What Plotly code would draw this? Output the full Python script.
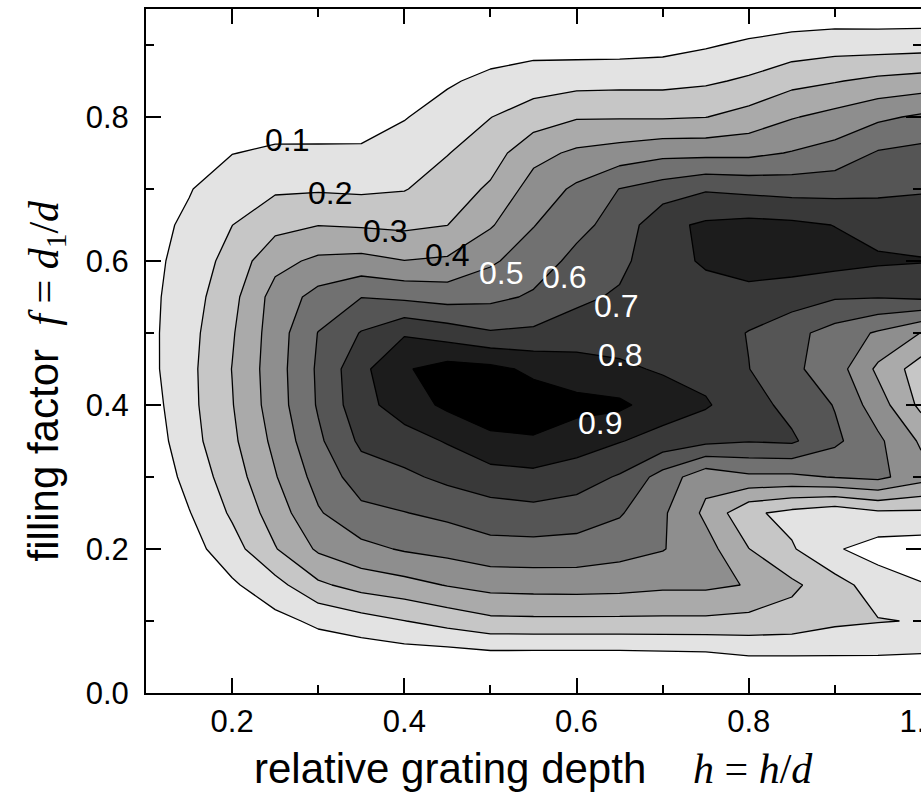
import plotly.graph_objects as go

# grid coordinates
x_vals = [0.10, 0.15, 0.20, 0.25, 0.30, 0.35, 0.40, 0.45, 0.50, 0.55,
          0.60, 0.65, 0.70, 0.75, 0.80, 0.85, 0.90, 0.95, 1.00]
y_vals = [0.00, 0.05, 0.10, 0.15, 0.20, 0.25, 0.30, 0.35, 0.40, 0.45,
          0.50, 0.55, 0.60, 0.65, 0.70, 0.75, 0.80, 0.85, 0.90, 0.95]

# efficiency values, one list per grating depth (column), listed from f=0.00 to f=0.95
c010 = [0, 0, 0, 0, 0, 0, 0.005, 0.032, 0.05, 0.066, 0.069, 0.07, 0.07, 0.07, 0.05, 0.01, 0, 0, 0, 0]
c015 = [0, 0, 0.01, 0.03, 0.06, 0.095, 0.135, 0.162, 0.172, 0.174, 0.168, 0.155, 0.135, 0.115, 0.095, 0.07, 0.04, 0.02, 0, 0]
c020 = [0, 0.01, 0.04, 0.085, 0.159, 0.215, 0.25, 0.28, 0.295, 0.302, 0.29, 0.27, 0.24, 0.199, 0.148, 0.098, 0.05, 0.01, 0, 0]
c025 = [0, 0.02, 0.07, 0.165, 0.294, 0.346, 0.393, 0.425, 0.45, 0.455, 0.45, 0.44, 0.369, 0.27, 0.186, 0.113, 0.06, 0.02, 0, 0]
c030 = [0, 0.03, 0.12, 0.282, 0.415, 0.49, 0.537, 0.581, 0.61, 0.615, 0.603, 0.535, 0.42, 0.298, 0.19, 0.115, 0.055, 0.02, 0, 0]
c035 = [0, 0.03, 0.16, 0.338, 0.472, 0.574, 0.65, 0.72, 0.765, 0.775, 0.706, 0.598, 0.43, 0.29, 0.183, 0.114, 0.06, 0.02, 0, 0]
c040 = [0, 0.044, 0.198, 0.366, 0.51, 0.597, 0.68, 0.757, 0.85, 0.89, 0.79, 0.58, 0.402, 0.28, 0.195, 0.144, 0.095, 0.03, 0, 0]
c045 = [0, 0.046, 0.238, 0.405, 0.532, 0.623, 0.723, 0.808, 0.92, 0.94, 0.752, 0.56, 0.415, 0.299, 0.247, 0.196, 0.141, 0.088, 0.01, 0]
c050 = [0, 0.061, 0.277, 0.434, 0.564, 0.657, 0.756, 0.88, 0.95, 0.926, 0.71, 0.575, 0.485, 0.39, 0.315, 0.255, 0.198, 0.125, 0.05, 0]
c055 = [0, 0.06, 0.28, 0.44, 0.565, 0.669, 0.771, 0.89, 0.95, 0.88, 0.719, 0.613, 0.552, 0.496, 0.442, 0.369, 0.249, 0.153, 0.06, 0]
c060 = [0, 0.06, 0.28, 0.442, 0.56, 0.653, 0.745, 0.848, 0.93, 0.845, 0.749, 0.678, 0.626, 0.573, 0.518, 0.4175, 0.292, 0.165, 0.055, 0]
c065 = [0, 0.06, 0.28, 0.436, 0.536, 0.61, 0.69, 0.805, 0.92, 0.816, 0.76, 0.714, 0.674, 0.637, 0.602, 0.444, 0.292, 0.17, 0.055, 0]
c070 = [0, 0.065, 0.28, 0.42, 0.505, 0.515, 0.56, 0.763, 0.85, 0.79, 0.76, 0.75, 0.77, 0.775, 0.645, 0.473, 0.29, 0.17, 0.065, 0]
c075 = [0, 0.07, 0.28, 0.42, 0.44, 0.38, 0.43, 0.726, 0.81, 0.77, 0.755, 0.77, 0.81, 0.815, 0.69, 0.473, 0.298, 0.185, 0.09, 0]
c080 = [0, 0.095, 0.27, 0.395, 0.302, 0.22, 0.48, 0.705, 0.74, 0.702, 0.695, 0.77, 0.84, 0.83, 0.675, 0.475, 0.338, 0.215, 0.117, 0.02]
c085 = [0, 0.095, 0.26, 0.32, 0.21, 0.17, 0.48, 0.715, 0.67, 0.62, 0.63, 0.75, 0.84, 0.82, 0.662, 0.506, 0.393, 0.269, 0.14, 0.03]
c090 = [0, 0.095, 0.22, 0.24, 0.11, 0.13, 0.505, 0.62, 0.595, 0.55, 0.56, 0.71, 0.835, 0.798, 0.664, 0.539, 0.432, 0.294, 0.157, 0.03]
c095 = [0, 0.095, 0.205, 0.15, 0.06, 0.18, 0.525, 0.52, 0.448, 0.38, 0.487, 0.705, 0.815, 0.76, 0.68, 0.609, 0.481, 0.323, 0.155, 0.03]
c100 = [0, 0.09, 0.195, 0.105, 0.05, 0.18, 0.44, 0.386, 0.276, 0.25, 0.398, 0.72, 0.805, 0.76, 0.69, 0.63, 0.515, 0.34, 0.16, 0.03]

columns = [c010, c015, c020, c025, c030, c035, c040, c045, c050, c055,
           c060, c065, c070, c075, c080, c085, c090, c095, c100]
z = [list(row) for row in zip(*columns)]

# contour labels
label_text = ["0.1", "0.2", "0.3", "0.4", "0.5", "0.6", "0.7", "0.8", "0.9"]
label_x = [0.264, 0.314, 0.378, 0.450, 0.512, 0.585, 0.646, 0.651, 0.627]
label_y = [0.768, 0.695, 0.642, 0.609, 0.584, 0.578, 0.538, 0.470, 0.375]
label_color = ["black", "black", "black", "black", "white", "white", "white", "white", "white"]

x_ticks = [0.2, 0.4, 0.6, 0.8, 1.0]
x_ticktext = ["0.2", "0.4", "0.6", "0.8", "1.0"]
y_ticks = [0.0, 0.2, 0.4, 0.6, 0.8]
y_ticktext = ["0.0", "0.2", "0.4", "0.6", "0.8"]

SANS = "Arial, Liberation Sans, Helvetica, sans-serif"

fig = go.Figure()
fig.add_trace(go.Contour(
    x=x_vals, y=y_vals, z=z,
    contours=dict(start=0.1, end=0.9, size=0.1, coloring="fill", showlabels=False),
    colorscale=[[0, "#ffffff"], [1, "#000000"]],
    showscale=False,
    line=dict(color="black", width=1.3, smoothing=0),
    hoverinfo="skip",
))

annotations = []
for t, lx, ly, lc in zip(label_text, label_x, label_y, label_color):
    annotations.append(dict(x=lx, y=ly, xref="x", yref="y", text=t, showarrow=False,
                            font=dict(family=SANS, size=32, color=lc),
                            xanchor="center", yanchor="middle"))

x_title = ("relative grating depth" + "\u00a0" * 4 +
           '<span style="font-family:Liberation Serif, Times New Roman, serif">'
           "<i>h</i> = <i>h</i>/<i>d</i></span>")
y_title = ("filling factor" + "\u00a0" * 2 +
           '<span style="font-family:Liberation Serif, Times New Roman, serif">'
           "<i>f</i> = <i>d</i><sub>1</sub>/<i>d</i></span>")
annotations.append(dict(x=0.5, y=-0.111, xref="paper", yref="paper", text=x_title,
                        showarrow=False, font=dict(family=SANS, size=42, color="black"),
                        xanchor="center", yanchor="middle"))
annotations.append(dict(x=-0.129, y=0.457, xref="paper", yref="paper", text=y_title,
                        showarrow=False, textangle=-90,
                        font=dict(family=SANS, size=42, color="black"),
                        xanchor="center", yanchor="middle"))

axis_common = dict(
    showline=True, linewidth=2, linecolor="black", mirror="allticks",
    ticks="inside", ticklen=15, tickwidth=2, tickcolor="black",
    showgrid=False, zeroline=False,
    tickfont=dict(family=SANS, size=31, color="black"),
    automargin=False,
)

fig.update_layout(
    width=921, height=793,
    margin=dict(l=146, r=0, t=9, b=100),
    paper_bgcolor="white", plot_bgcolor="white",
    showlegend=False,
    annotations=annotations,
    xaxis=dict(range=[0.1, 1.0], tickmode="array", tickvals=x_ticks, ticktext=x_ticktext,
               minor=dict(tickmode="array", tickvals=[0.3, 0.5, 0.7, 0.9], ticks="inside",
                          ticklen=8, tickwidth=2, tickcolor="black"),
               ticklabeloverflow="allow", ticklabelstandoff=0, **axis_common),
    yaxis=dict(range=[0.0, 0.95], tickmode="array", tickvals=y_ticks, ticktext=y_ticktext,
               minor=dict(tickmode="array", tickvals=[0.1, 0.3, 0.5, 0.7, 0.9], ticks="inside",
                          ticklen=8, tickwidth=2, tickcolor="black"),
               ticklabelstandoff=9, **axis_common),
)

fig.write_html("out.html")
